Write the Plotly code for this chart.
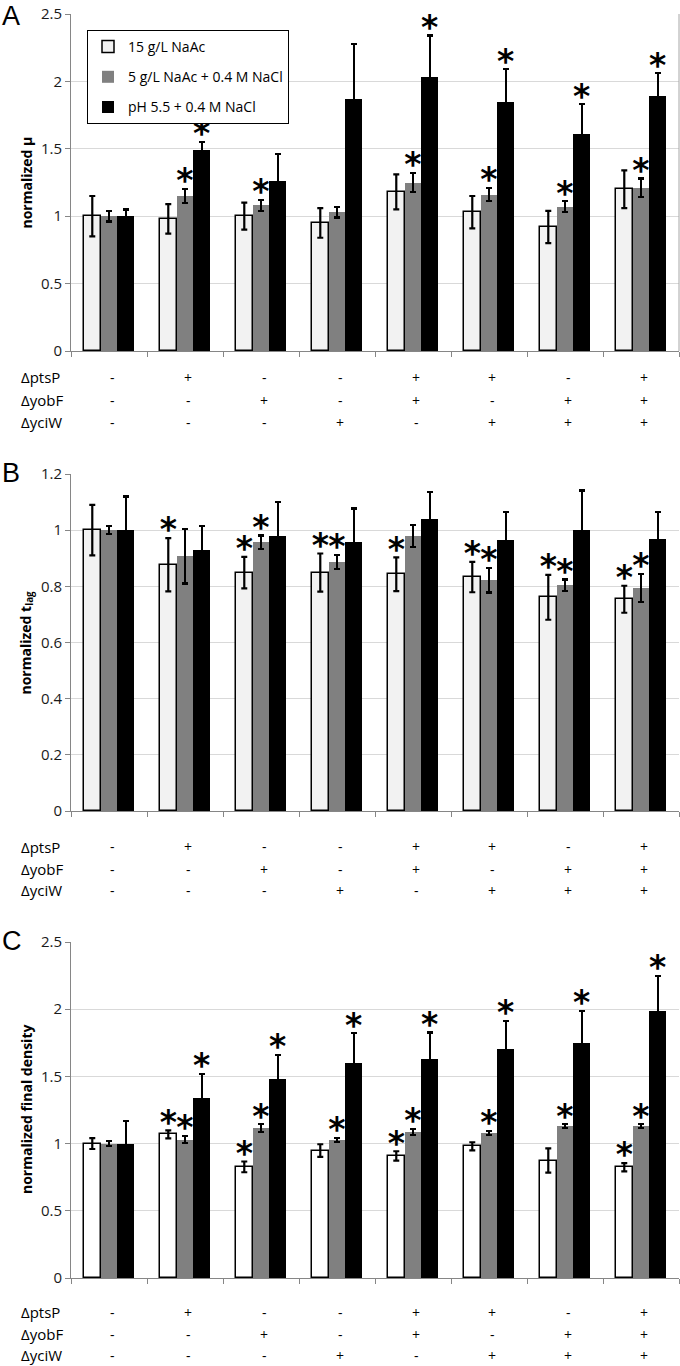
import plotly.graph_objects as go

# ---------------- data ----------------
categories = ["WT", "ptsP", "yobF", "yciW", "ptsP yobF", "ptsP yciW", "yobF yciW", "ptsP yobF yciW"]
series_names = ["15 g/L NaAc", "5 g/L NaAc + 0.4 M NaCl", "pH 5.5 + 0.4 M NaCl"]

row_labels = ["ΔptsP", "ΔyobF", "ΔyciW"]
ptsP_row = ["-", "+", "-", "-", "+", "+", "-", "+"]
yobF_row = ["-", "-", "+", "-", "+", "-", "+", "+"]
yciW_row = ["-", "-", "-", "+", "-", "+", "+", "+"]

# Panel A: normalized growth rate
A_light = [1.00, 0.98, 1.00, 0.95, 1.18, 1.03, 0.92, 1.20]
A_light_err = [0.15, 0.11, 0.10, 0.11, 0.13, 0.12, 0.12, 0.14]
A_gray = [1.00, 1.15, 1.08, 1.03, 1.25, 1.16, 1.07, 1.21]
A_gray_err = [0.04, 0.05, 0.04, 0.04, 0.07, 0.05, 0.04, 0.07]
A_black = [1.00, 1.49, 1.26, 1.87, 2.03, 1.85, 1.61, 1.89]
A_black_err = [0.05, 0.06, 0.20, 0.41, 0.31, 0.24, 0.22, 0.17]
A_light_sig = [0, 0, 0, 0, 0, 0, 0, 0]
A_gray_sig = [0, 1, 1, 0, 1, 1, 1, 1]
A_black_sig = [0, 1, 0, 0, 1, 1, 1, 1]

# Panel B: normalized lag time
B_light = [1.00, 0.877, 0.849, 0.849, 0.843, 0.833, 0.761, 0.754]
B_light_err = [0.09, 0.095, 0.056, 0.068, 0.06, 0.054, 0.08, 0.048]
B_gray = [1.00, 0.907, 0.957, 0.886, 0.979, 0.822, 0.804, 0.794]
B_gray_err = [0.015, 0.097, 0.024, 0.025, 0.038, 0.044, 0.02, 0.05]
B_black = [1.00, 0.928, 0.978, 0.957, 1.041, 0.965, 1.001, 0.968]
B_black_err = [0.12, 0.087, 0.123, 0.12, 0.095, 0.10, 0.14, 0.098]
B_light_sig = [0, 1, 1, 1, 1, 1, 1, 1]
B_gray_sig = [0, 0, 1, 1, 0, 1, 1, 1]
B_black_sig = [0, 0, 0, 0, 0, 0, 0, 0]

# Panel C: normalized final density
C_light = [1.00, 1.069, 0.827, 0.948, 0.908, 0.98, 0.874, 0.824]
C_light_err = [0.04, 0.03, 0.04, 0.047, 0.035, 0.03, 0.09, 0.03]
C_gray = [1.00, 1.03, 1.114, 1.027, 1.087, 1.077, 1.129, 1.129]
C_gray_err = [0.02, 0.025, 0.03, 0.015, 0.02, 0.015, 0.015, 0.015]
C_black = [1.00, 1.339, 1.478, 1.60, 1.631, 1.703, 1.752, 1.985]
C_black_err = [0.17, 0.18, 0.18, 0.22, 0.196, 0.21, 0.235, 0.265]
C_light_sig = [0, 1, 1, 0, 1, 0, 0, 1]
C_gray_sig = [0, 1, 1, 1, 1, 1, 1, 1]
C_black_sig = [0, 1, 1, 1, 1, 1, 1, 1]

# ---------------- layout constants ----------------
W, H = 680, 1366
FONT = "Open Sans"
X_LEFT, X_RIGHT = 71, 679
panels = [
    dict(letter="A", top=14, bottom=351, ymax=2.5, dtick=0.5,
         title="<b>normalized µ</b>", light_color="#f2f2f2",
         data=[(A_light, A_light_err, A_light_sig), (A_gray, A_gray_err, A_gray_sig),
               (A_black, A_black_err, A_black_sig)],
         rows=[377, 400, 422], border=True),
    dict(letter="B", top=474, bottom=811, ymax=1.2, dtick=0.2,
         title="<b>normalized t<sub>lag</sub></b>", light_color="#f2f2f2",
         data=[(B_light, B_light_err, B_light_sig), (B_gray, B_gray_err, B_gray_sig),
               (B_black, B_black_err, B_black_sig)],
         rows=[847, 869, 890], border=False),
    dict(letter="C", top=942, bottom=1278, ymax=2.5, dtick=0.5,
         title="<b>normalized final density</b>", light_color="#ffffff",
         data=[(C_light, C_light_err, C_light_sig), (C_gray, C_gray_err, C_gray_sig),
               (C_black, C_black_err, C_black_sig)],
         rows=[1312, 1334, 1355], border=False),
]
bar_w = 0.22
shifts = [-0.22, 0.0, 0.22]
fills = [None, "#808080", "#000000"]

fig = go.Figure()
annotations = []
shapes = []
n = len(categories)

def py(pix):
    return 1 - pix / H

for p_i, p in enumerate(panels):
    ax = "" if p_i == 0 else str(p_i + 1)
    xref, yref = "x" + ax, "y" + ax
    ppu = (p["bottom"] - p["top"]) / p["ymax"]
    for s_i, (vals, errs, sig) in enumerate(p["data"]):
        fill = p["light_color"] if s_i == 0 else fills[s_i]
        xs = [i + shifts[s_i] for i in range(n)]
        fig.add_trace(go.Bar(
            x=xs, y=vals, width=bar_w, name=series_names[s_i],
            marker=dict(color=fill,
                        line=dict(color="#000000", width=1.5 if s_i == 0 else 0)),
            error_y=dict(type="data", array=errs, visible=True,
                         color="#000000", thickness=2.2, width=3),
            xaxis=xref, yaxis=yref, showlegend=(p_i == 0),
            legendgroup=f"g{s_i}", hoverinfo="skip",
        ))
        sx = [xs[i] for i in range(n) if sig[i]]
        sy = [vals[i] + errs[i] + 5 / ppu for i in range(n) if sig[i]]
        if sx:
            fig.add_trace(go.Scatter(
                x=sx, y=sy, mode="text", text=["<b>*</b>"] * len(sx),
                textposition="middle center", cliponaxis=False,
                textfont=dict(family="DejaVu Sans", size=33, color="#000000"),
                xaxis=xref, yaxis=yref, showlegend=False, hoverinfo="skip",
            ))
    dom_y = [py(p["bottom"]), py(p["top"])]
    fig.layout["xaxis" + ax] = dict(
        domain=[X_LEFT / W, X_RIGHT / W], range=[-0.5, n - 0.5],
        anchor=yref, tickmode="array", tickvals=[i - 0.5 for i in range(n + 1)],
        showticklabels=False, ticks="outside", ticklen=5, tickcolor="#868686",
        showline=True, linecolor="#868686", linewidth=1, showgrid=False, zeroline=False,
        automargin=False,
    )
    fig.layout["yaxis" + ax] = dict(
        domain=dom_y, range=[0, p["ymax"]], dtick=p["dtick"], tick0=0,
        anchor=xref, ticks="outside", ticklen=5, tickcolor="#868686",
        showline=True, linecolor="#868686", linewidth=1,
        showgrid=True, gridcolor="#d9d9d9", gridwidth=1, zeroline=False,
        tickfont=dict(family=FONT, size=15, color="#1a1a1a"), automargin=False,
    )
    # y-axis title
    annotations.append(dict(
        text=p["title"], xref="paper", yref="paper", x=26 / W,
        y=(dom_y[0] + dom_y[1]) / 2, textangle=-90, showarrow=False,
        xanchor="center", yanchor="middle",
        font=dict(family=FONT, size=14, color="#000000"),
    ))
    # panel letter
    annotations.append(dict(
        text=p["letter"], xref="paper", yref="paper", x=0, y=py(max(p["top"] - 1, 16)),
        showarrow=False, xanchor="left", yanchor="middle",
        font=dict(family="Liberation Sans", size=27, color="#000000"),
    ))
    # genotype table
    for r_i, (lab, row) in enumerate(zip(row_labels, [ptsP_row, yobF_row, yciW_row])):
        yy = py(p["rows"][r_i])
        annotations.append(dict(
            text=lab, xref="paper", yref="paper", x=19 / W, y=yy,
            showarrow=False, xanchor="left", yanchor="middle",
            font=dict(family=FONT, size=15, color="#000000"),
        ))
        for i, sym in enumerate(row):
            annotations.append(dict(
                text=sym, xref=xref, yref="paper", x=i + 0.04, y=yy,
                showarrow=False, xanchor="center", yanchor="middle",
                font=dict(family=FONT, size=14, color="#000000"),
            ))
    if p["border"]:
        shapes.append(dict(type="line", xref="paper", yref="paper",
                           x0=X_RIGHT / W, x1=X_RIGHT / W,
                           y0=py(p["bottom"]), y1=py(p["top"]),
                           line=dict(color="#a6a6a6", width=1)))

fig.update_layout(
    width=W, height=H, margin=dict(l=0, r=0, t=0, b=0, autoexpand=False),
    paper_bgcolor="#ffffff", plot_bgcolor="#ffffff",
    barmode="overlay", bargap=0,
    font=dict(family=FONT, color="#000000"),
    legend=dict(x=87 / W, y=py(30), xanchor="left", yanchor="top",
                bordercolor="#000000", borderwidth=1, bgcolor="#ffffff",
                font=dict(family=FONT, size=14, color="#000000"),
                tracegroupgap=9, traceorder="grouped", itemwidth=30),
    annotations=annotations, shapes=shapes,
)

fig.write_html(
    "out.html",
    config={"displayModeBar": False},
    post_script="document.body.style.margin='0';document.body.style.padding='0';"
                "document.body.style.overflow='hidden';",
)
